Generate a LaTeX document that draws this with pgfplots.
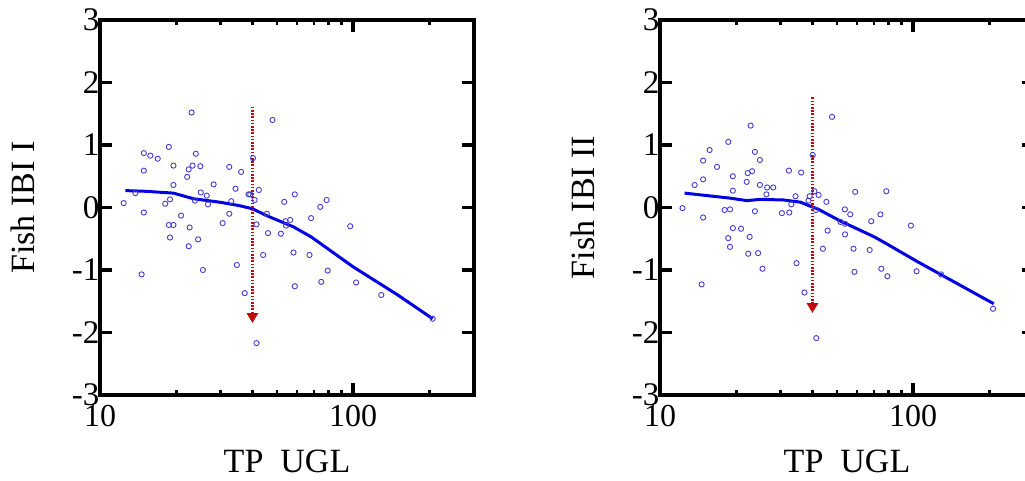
\documentclass[border=0pt]{standalone}
\usepackage{fontspec}
\setmainfont{Liberation Serif}
\usepackage{pgfplots}
\usepackage{pgfplotstable}
\pgfplotsset{compat=1.18}
\usetikzlibrary{arrows.meta}
\definecolor{ptblue}{RGB}{70,60,210}
\definecolor{fitblue}{RGB}{0,0,225}
\definecolor{cutred}{RGB}{195,10,10}

\pgfplotstableread{
x y
12.4 0.07
13.8 0.23
14.9 0.87
15.8 0.83
16.9 0.78
14.9 0.59
14.9 -0.08
14.6 -1.07
18.7 0.97
19.5 0.67
19.5 0.36
18.1 0.06
18.9 0.13
18.7 -0.28
19.5 -0.28
18.9 -0.48
20.9 -0.13
23.0 1.52
23.9 0.86
23.2 0.67
22.4 0.61
22.1 0.49
24.9 0.66
25.0 0.24
23.7 0.11
26.4 0.19
26.7 0.05
28.1 0.37
22.6 -0.32
24.4 -0.51
22.4 -0.62
25.5 -1.00
30.5 -0.25
32.4 -0.10
32.4 0.65
33.0 0.10
34.3 0.30
36.1 0.57
38.6 0.21
39.2 0.21
40.2 0.79
40.8 0.12
42.4 0.28
41.5 -0.27
34.7 -0.92
37.3 -1.37
41.5 -2.17
44.1 -0.76
45.6 -0.10
46.1 -0.41
48.0 1.40
51.8 -0.42
53.4 0.09
54.0 -0.22
56.4 -0.20
54.3 -0.29
58.8 0.21
58.1 -0.72
58.8 -1.26
68.2 -0.17
67.2 -0.76
74.1 0.01
78.5 0.12
79.3 -1.01
74.8 -1.19
97.3 -0.30
102.7 -1.20
129.1 -1.40
206 -1.78
}\ptsone

\pgfplotstableread{
x y
12.6 0.27
15.0 0.26
19.5 0.23
23.4 0.14
29.7 0.085
35.5 0.03
40.0 -0.02
45.5 -0.13
58.1 -0.31
68.2 -0.47
71.0 -0.52
100 -0.95
150 -1.40
206 -1.78
}\fitone

\pgfplotstableread{
x y
12.27 -0.01
13.7 0.36
14.8 0.75
14.8 0.45
14.8 -0.16
14.6 -1.23
15.7 0.92
16.8 0.65
18.6 1.05
19.4 0.50
19.4 0.27
18.0 -0.04
18.9 -0.03
19.4 -0.33
20.9 -0.34
18.6 -0.49
18.9 -0.63
22.8 1.31
23.7 0.89
24.8 0.76
22.2 0.55
23.1 0.58
22.0 0.41
24.8 0.36
26.5 0.32
28.0 0.32
26.3 0.21
23.7 -0.06
22.6 -0.47
22.3 -0.74
24.4 -0.73
25.4 -0.98
30.3 -0.09
32.4 -0.08
32.3 0.59
33.0 0.05
34.3 0.18
36.1 0.56
34.6 -0.89
37.2 -1.36
39.0 0.18
38.6 0.11
40.1 0.84
40.7 0.26
42.3 0.20
41.3 -0.04
41.4 -2.09
45.4 0.09
45.9 -0.37
44.0 -0.66
47.8 1.45
51.6 -0.23
53.7 -0.03
56.4 -0.11
53.8 -0.43
53.8 -0.26
59.0 0.25
58.1 -0.66
58.6 -1.03
68.3 -0.22
67.3 -0.68
74.2 -0.11
78.3 0.26
74.8 -0.98
79.1 -1.10
97.9 -0.29
103.1 -1.02
128.8 -1.07
206.7 -1.62
}\ptstwo

\pgfplotstableread{
x y
12.5 0.23
18.9 0.15
22.0 0.11
24.9 0.13
30.8 0.12
35.9 0.085
38.7 0.03
41.8 -0.02
51.8 -0.22
70.2 -0.47
76.9 -0.56
104.3 -0.87
208 -1.54
}\fittwo

\pgfplotsset{
  ibi/.style={
    scale only axis, width=374pt, height=375pt,
    xmin=10, xmax=300, ymin=-3, ymax=3,
    xtick={10,100}, xticklabels={10,100},
    minor xtick={20,30,40,50,60,70,80,90,200},
    ytick={-3,-2,-1,0,1,2,3}, yticklabels={-3,-2,-1,0,1,2,3},
    axis line style={line width=3.8pt},
    major tick length=12pt, minor tick length=5pt,
    every major tick/.append style={line width=3.8pt, black},
    every minor tick/.append style={line width=2.8pt, black},
    tick label style={font=\fontsize{32}{34}\selectfont},
    xticklabel style={yshift=-7pt},
    yticklabel style={xshift=3pt, font=\fontsize{33}{35}\selectfont},
    label style={font=\fontsize{34}{36}\selectfont},
    xlabel style={at={(axis description cs:0.5,-0.208)}, anchor=base, inner sep=0pt},
    ylabel style={at={(axis description cs:-0.174,0.5)}, anchor=base, inner sep=0pt},
    xlabel={TP\hspace{0.5em}UGL},
  },
}
\tikzset{
  ptsmk/.style={only marks, mark=o, mark size=2.6pt, mark options={ptblue, line width=0.9pt}},
  fitline/.style={fitblue, line width=3pt, no marks},
  cutline/.style={cutred, line width=2.5pt, dash pattern=on 1.6pt off 1.6pt, -{Triangle[length=10pt,width=11pt]}},
}

\begin{document}
\begin{tikzpicture}
\path[use as bounding box] (0,0) rectangle (1025pt,481pt);
\clip (0,0) rectangle (1025pt,481pt);

\begin{axis}[xmode=log, ibi, at={(100pt,86pt)}, anchor=south west, ylabel={Fish IBI I}]
\addplot[ptsmk] table[x=x,y=y] {\ptsone};
\addplot[fitline] table[x=x,y=y] {\fitone};
\addplot[cutline] coordinates {(40,1.61) (40,-1.85)};
\end{axis}

\begin{axis}[xmode=log, ibi, at={(660pt,86pt)}, anchor=south west, ylabel={Fish IBI II}]
\addplot[ptsmk] table[x=x,y=y] {\ptstwo};
\addplot[fitline] table[x=x,y=y] {\fittwo};
\addplot[cutline] coordinates {(40,1.76) (40,-1.69)};
\end{axis}
\end{tikzpicture}
\end{document}
